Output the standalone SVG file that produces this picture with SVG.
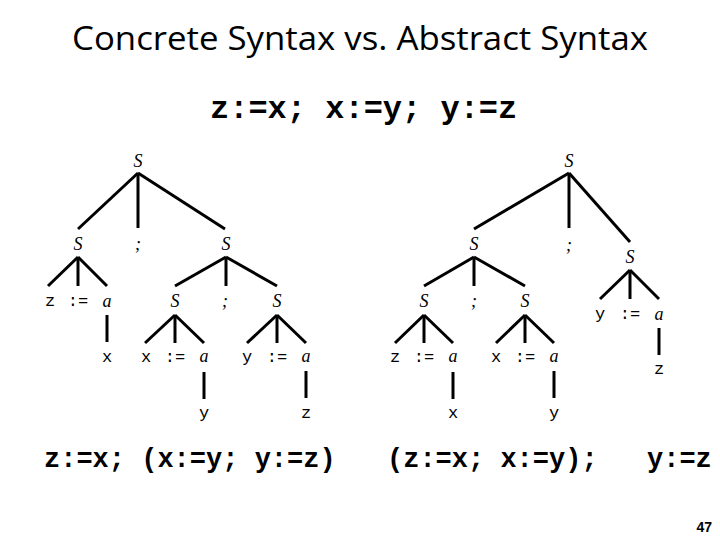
<svg xmlns="http://www.w3.org/2000/svg" width="720" height="540" viewBox="0 0 720 540">
<style>
.n{font-family:"Liberation Serif",serif;font-style:italic;font-size:18px;text-anchor:middle;fill:#000}
.t{font-family:"Liberation Mono",monospace;font-size:17px;text-anchor:middle;fill:#000}
.c{font-family:"Liberation Mono",monospace;font-weight:bold;fill:#000}
#edges line{stroke:#000;stroke-width:3}
</style>
<rect width="720" height="540" fill="#fff"/>
<text x="72" y="50" font-family="'Open Sans',sans-serif" font-size="32" textLength="576" lengthAdjust="spacingAndGlyphs">Concrete Syntax vs. Abstract Syntax</text>
<text class="c" x="210" y="118" font-size="32">z:=x; x:=y; y:=z</text>
<text class="c" x="44" y="467" font-size="27">z:=x; (x:=y; y:=z)</text>
<text class="c" x="387" y="467" font-size="27">(z:=x; x:=y);</text>
<text class="c" x="647" y="467" font-size="27">y:=z</text>
<text x="712" y="532" font-family="'Liberation Sans',sans-serif" font-weight="bold" font-size="14" text-anchor="end">47</text>
<g id="edges">
<line x1="138" y1="173" x2="78" y2="229"/><line x1="138" y1="173" x2="138" y2="228"/><line x1="138" y1="173" x2="225" y2="229"/>
<line x1="78" y1="257" x2="48" y2="286"/><line x1="78" y1="257" x2="78" y2="286"/><line x1="78" y1="257" x2="107" y2="286"/>
<line x1="107" y1="315" x2="107" y2="342"/>
<line x1="226" y1="257" x2="175" y2="286"/><line x1="226" y1="257" x2="226" y2="286"/><line x1="226" y1="257" x2="277" y2="286"/>
<line x1="175" y1="315" x2="145" y2="343"/><line x1="175" y1="315" x2="175" y2="343"/><line x1="175" y1="315" x2="204" y2="343"/>
<line x1="204" y1="372" x2="204" y2="399"/>
<line x1="277" y1="315" x2="247" y2="343"/><line x1="277" y1="315" x2="277" y2="343"/><line x1="277" y1="315" x2="306" y2="343"/>
<line x1="306" y1="371" x2="306" y2="398"/>
<line x1="569" y1="173" x2="474" y2="229"/><line x1="569" y1="173" x2="569" y2="228"/><line x1="569" y1="173" x2="630" y2="242"/>
<line x1="630" y1="270" x2="600" y2="299"/><line x1="630" y1="270" x2="630" y2="299"/><line x1="630" y1="270" x2="659" y2="299"/>
<line x1="659" y1="328" x2="659" y2="355"/>
<line x1="474" y1="257" x2="424" y2="286"/><line x1="474" y1="257" x2="474" y2="286"/><line x1="474" y1="257" x2="525" y2="286"/>
<line x1="424" y1="315" x2="395" y2="343"/><line x1="424" y1="315" x2="424" y2="343"/><line x1="424" y1="315" x2="453" y2="343"/>
<line x1="453" y1="372" x2="453" y2="399"/>
<line x1="525" y1="315" x2="496" y2="343"/><line x1="525" y1="315" x2="525" y2="343"/><line x1="525" y1="315" x2="554" y2="343"/>
<line x1="554" y1="371" x2="554" y2="398"/>
</g>
<g id="left-tree">
<g id="L-S0"><text class="n" x="138" y="167">S</text></g>
<g id="L-S1"><text class="n" x="78" y="250">S</text></g>
<g id="L-semi1"><text class="n" x="138" y="250">;</text></g>
<g id="L-S2"><text class="n" x="226" y="250">S</text></g>
<g id="L-z1"><text class="t" x="50" y="306">z</text></g>
<g id="L-as1"><text class="t" x="78" y="306">:=</text></g>
<g id="L-a1"><text class="n" x="107" y="307">a</text></g>
<g id="L-x1"><text class="t" x="107" y="362">x</text></g>
<g id="L-S3"><text class="n" x="175" y="307">S</text></g>
<g id="L-semi2"><text class="n" x="225" y="307">;</text></g>
<g id="L-S4"><text class="n" x="277" y="307">S</text></g>
<g id="L-x2"><text class="t" x="146" y="362">x</text></g>
<g id="L-as2"><text class="t" x="175" y="362">:=</text></g>
<g id="L-a2"><text class="n" x="204" y="362">a</text></g>
<g id="L-y2"><text class="t" x="204" y="418">y</text></g>
<g id="L-y3"><text class="t" x="247" y="362">y</text></g>
<g id="L-as3"><text class="t" x="277" y="362">:=</text></g>
<g id="L-a3"><text class="n" x="306" y="362">a</text></g>
<g id="L-z3"><text class="t" x="306" y="418">z</text></g>
</g>
<g id="right-tree">
<g id="R-S0"><text class="n" x="569" y="167">S</text></g>
<g id="R-S1"><text class="n" x="474" y="250">S</text></g>
<g id="R-semi1"><text class="n" x="569" y="251">;</text></g>
<g id="R-S2"><text class="n" x="630" y="263">S</text></g>
<g id="R-y1"><text class="t" x="600" y="319">y</text></g>
<g id="R-as1"><text class="t" x="630" y="319">:=</text></g>
<g id="R-a1"><text class="n" x="659" y="320">a</text></g>
<g id="R-z1"><text class="t" x="659" y="374">z</text></g>
<g id="R-S3"><text class="n" x="424" y="307">S</text></g>
<g id="R-semi2"><text class="n" x="474" y="307">;</text></g>
<g id="R-S4"><text class="n" x="525" y="307">S</text></g>
<g id="R-z2"><text class="t" x="395" y="362">z</text></g>
<g id="R-as2"><text class="t" x="424" y="362">:=</text></g>
<g id="R-a2"><text class="n" x="453" y="362">a</text></g>
<g id="R-x2"><text class="t" x="453" y="418">x</text></g>
<g id="R-x3"><text class="t" x="496" y="362">x</text></g>
<g id="R-as3"><text class="t" x="525" y="362">:=</text></g>
<g id="R-a3"><text class="n" x="554" y="362">a</text></g>
<g id="R-y3"><text class="t" x="554" y="418">y</text></g>
</g>
</svg>
